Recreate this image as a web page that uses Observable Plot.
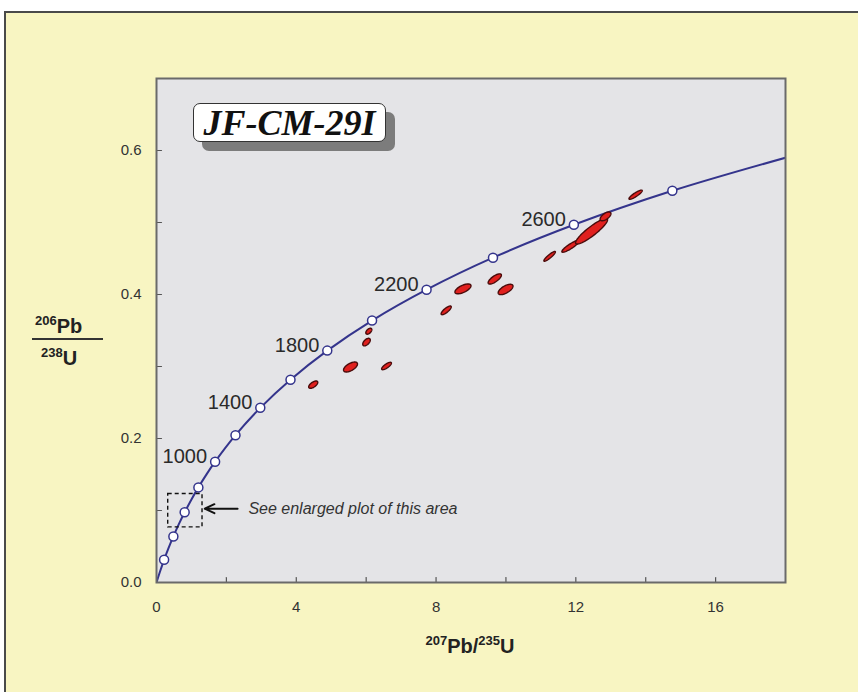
<!DOCTYPE html>
<html>
<head>
<meta charset="utf-8">
<script src="https://cdn.jsdelivr.net/npm/d3@7"></script>
<script src="https://cdn.jsdelivr.net/npm/@observablehq/plot@0.6"></script>
<style>
  html, body { margin: 0; padding: 0; background: #ffffff; }
  #wrap { position: relative; width: 858px; height: 692px; overflow: hidden; font-family: "Liberation Sans", Arial, sans-serif; }
  #panel { position: absolute; left: 4px; top: 11px; width: 870px; height: 700px; background: #f8f5c2; border-left: 2px solid #4a4a4a; border-top: 2px solid #4a4a4a; }
  #chart { position: absolute; left: 0; top: 0; }
  .lab { position: absolute; font-weight: bold; color: #222; white-space: nowrap; }
  .sup { font-size: 13px; position: relative; top: -8px; }
  #title { position: absolute; left: 193px; top: 103px; width: 191px; height: 37px; background: #fff; border: 1.5px solid #333; border-radius: 7px; box-shadow: 9px 9px 0 #7c7c7c; text-align: center; font-family: "Liberation Serif", "Times New Roman", serif; font-weight: bold; font-style: italic; font-size: 36px; line-height: 39px; color: #111; }
</style>
</head>
<body>
<div id="wrap">
  <div id="panel"></div>
  <div id="chart"></div>
  <div id="title">JF-CM-29I</div>
  <div class="lab" style="left:35px; top:315px; font-size:20px; line-height:22px;"><span class="sup">206</span>Pb</div>
  <div style="position:absolute; left:32px; top:338px; width:71px; height:2px; background:#333;"></div>
  <div class="lab" style="left:41px; top:347px; font-size:20px; line-height:22px;"><span class="sup">238</span>U</div>
  <div class="lab" style="left:370px; width:200px; text-align:center; top:635px; font-size:20px; line-height:22px;"><span class="sup">207</span>Pb/<span class="sup">235</span>U</div>
</div>
<script>
// Concordia (age in Ma, 207Pb/235U, 206Pb/238U)
const ages      = [0, 100, 200, 300, 400, 500, 600, 700, 800, 900, 1000, 1200, 1400, 1600, 1800, 2000, 2200, 2400, 2600, 2800, 3000];
const pb207u235 = [0, 0.1035, 0.2177, 0.3437, 0.4828, 0.6362, 0.8057, 0.9925, 1.1987, 1.4264, 1.6774, 2.2604, 2.9701, 3.8347, 4.8871, 6.1685, 7.7288, 9.6293, 11.944, 14.762, 18.193];
const pb206u238 = [0, 0.01563, 0.0315, 0.04764, 0.0640, 0.08065, 0.0975, 0.1147, 0.1321, 0.1498, 0.1678, 0.2046, 0.2426, 0.2817, 0.3221, 0.3638, 0.4067, 0.4511, 0.4968, 0.5440, 0.5926];
const markerAges  = [200, 400, 600, 800, 1000, 1200, 1400, 1600, 1800, 2000, 2200, 2400, 2600, 2800];
const labeledAges = [1000, 1400, 1800, 2200, 2600];

// Analyses: centre, half-widths (207/235, 206/238) and error correlation
const ellX   = [4.485, 5.552, 6.583, 6.010, 6.076, 8.29, 8.77, 9.68, 9.99, 11.25, 11.85, 12.45, 12.85, 13.71];
const ellY   = [0.2748, 0.2993, 0.3007, 0.3339, 0.3490, 0.3780, 0.4078, 0.4216, 0.4070, 0.4530, 0.4670, 0.4878, 0.5085, 0.5386];
const ellSx  = [0.130, 0.200, 0.140, 0.108, 0.086, 0.145, 0.230, 0.190, 0.212, 0.165, 0.250, 0.458, 0.155, 0.190];
const ellSy  = [0.00510, 0.00690, 0.00515, 0.00525, 0.00415, 0.00605, 0.00685, 0.00710, 0.00720, 0.00680, 0.00830, 0.01775, 0.00610, 0.00635];
const ellRho = [0.62, 0.60, 0.78, 0.55, 0.53, 0.80, 0.63, 0.74, 0.64, 0.90, 0.89, 0.90, 0.62, 0.88];

const xTickValues = [0, 4, 8, 12, 16];
const xTickMarks  = [2, 4, 6, 8, 10, 12, 14, 16];
const yTickValues = [0, 0.2, 0.4, 0.6];
const yTickMarks  = [0.1, 0.2, 0.3, 0.4, 0.5, 0.6];

const zoomBox = [{x1: 0.335, x2: 1.317, y1: 0.0766, y2: 0.1229}];
const note = [{x1: 2.32, x2: 1.38, y: 0.1025, tx: 2.63, text: "See enlarged plot of this area"}];

const concordia = ages.map((a, i) => ({age: a, x: pb207u235[i], y: pb206u238[i]}));
const markers = concordia.filter(d => markerAges.includes(d.age));
const labels = concordia.filter(d => labeledAges.includes(d.age));

const N = 60;
const ellPts = [];
ellX.forEach((cx, i) => {
  const r = ellRho[i], q = Math.sqrt(1 - r * r);
  for (let k = 0; k < N; k++) {
    const t = 2 * Math.PI * k / N;
    ellPts.push({id: i, x: cx + ellSx[i] * Math.cos(t), y: ellY[i] + ellSy[i] * (r * Math.cos(t) + q * Math.sin(t))});
  }
});

const tickShape = {draw(context, l) { context.moveTo(0, 0); context.lineTo(0, -l); }};

const chart = Plot.plot({
  width: 858,
  height: 692,
  marginLeft: 156,
  marginRight: 73,
  marginTop: 78,
  marginBottom: 110,
  style: {background: "transparent", fontFamily: "'Liberation Sans', Arial, sans-serif", fontSize: "15px", color: "#333"},
  x: {domain: [0, 18]},
  y: {domain: [0, 0.7]},
  marks: [
    Plot.frame({fill: "#e4e4e7", stroke: null}),
    Plot.axisX({ticks: xTickValues, tickSize: 0, tickPadding: 19, label: null, fontSize: 15, fill: "#333"}),
    Plot.axisY({ticks: yTickValues, tickSize: 0, tickPadding: 15, tickFormat: d3.format(".1f"), label: null, fontSize: 15, fill: "#333"}),
    Plot.vector(xTickMarks, {x: d => d, frameAnchor: "bottom", length: 5, rotate: 0, anchor: "start", shape: tickShape, stroke: "#555", strokeWidth: 1.2}),
    Plot.vector(yTickMarks, {y: d => d, frameAnchor: "left", length: 5, rotate: 90, anchor: "start", shape: tickShape, stroke: "#555", strokeWidth: 1.2}),
    Plot.line(concordia, {x: "x", y: "y", curve: "catmull-rom", stroke: "#34348c", strokeWidth: 2, clip: true}),
    Plot.line(ellPts, {x: "x", y: "y", z: "id", curve: "linear-closed", fill: "#e0201e", stroke: "#4a0b0b", strokeWidth: 1.4}),
    Plot.dot(markers, {x: "x", y: "y", r: 4.5, fill: "#fff", stroke: "#34348c", strokeWidth: 1.5}),
    Plot.text(labels, {x: "x", y: "y", text: d => String(d.age), textAnchor: "end", dx: -8, dy: -5, fontSize: 20, fill: "#2a2a2a"}),
    Plot.rect(zoomBox, {x1: "x1", x2: "x2", y1: "y1", y2: "y2", fill: "none", stroke: "#111", strokeWidth: 1.4, strokeDasharray: "4,3"}),
    Plot.arrow(note, {x1: "x1", x2: "x2", y1: "y", y2: "y", stroke: "#111", strokeWidth: 2, headLength: 8, headAngle: 50}),
    Plot.text(note, {x: "tx", y: "y", text: "text", textAnchor: "start", fontStyle: "italic", fontSize: 16, fill: "#333"}),
    Plot.frame({stroke: "#6a6a6a", strokeWidth: 2})
  ]
});
document.getElementById("chart").appendChild(chart);
</script>
</body>
</html>
